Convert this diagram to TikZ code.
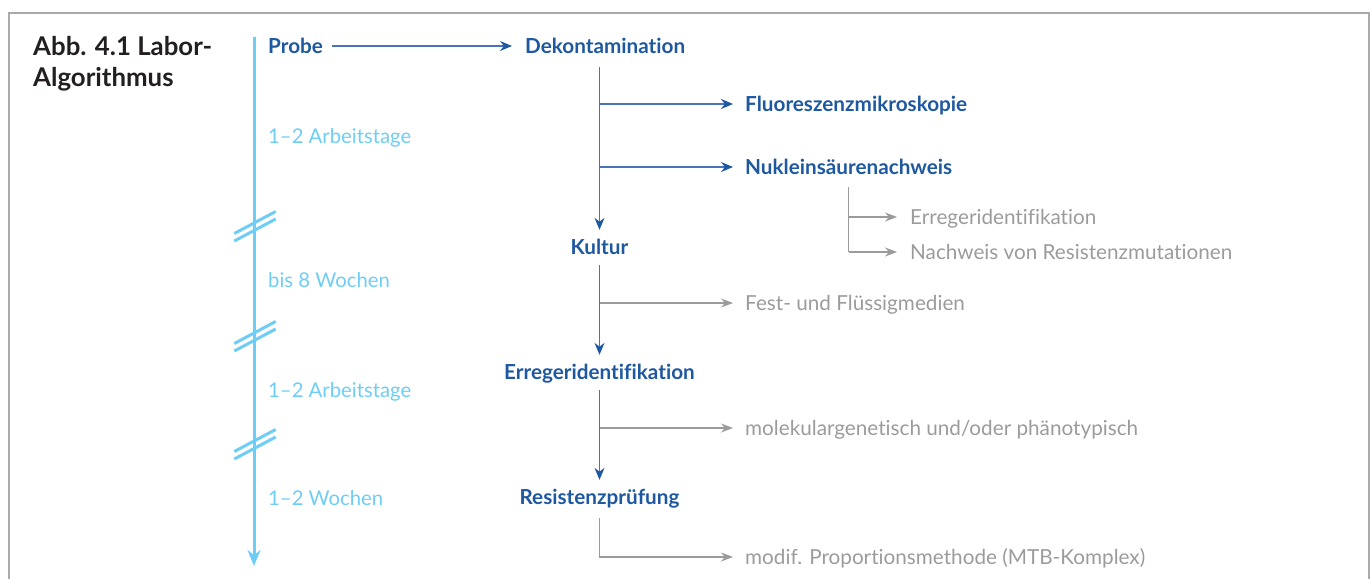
\documentclass[tikz,border=0pt]{standalone}
\usepackage{fontspec}
\setmainfont{Lato}[Ligatures=NoCommon]
\usetikzlibrary{arrows.meta}
\definecolor{dblue}{RGB}{30,88,160}
\definecolor{lineblue}{RGB}{70,115,185}
\definecolor{lblue}{RGB}{110,205,245}
\definecolor{lgray}{RGB}{155,155,155}
\definecolor{framegray}{RGB}{170,170,170}
\definecolor{titlecol}{RGB}{35,31,32}
\begin{document}
\begin{tikzpicture}[x=1pt,y=-1pt,
  every node/.style={inner sep=0pt, text height=14pt, text depth=0pt},
  mainbox/.style={font=\fontsize{20.7}{24}\selectfont\bfseries, text=dblue},
  sidebox/.style={mainbox, anchor=west},
  subbox/.style={font=\fontsize{20.7}{24}\selectfont, text=lgray, anchor=west},
  tlabel/.style={font=\fontsize{20.3}{24}\selectfont, text=lblue, anchor=west},
  titlebox/.style={font=\fontsize{25.8}{30}\selectfont\bfseries, text=titlecol, anchor=base west, text height=18pt},
  flow/.style={draw=lineblue, line width=1.1pt, -{Stealth[length=12pt,width=10pt,color=dblue]}},
  graylink/.style={draw=lgray, line width=1.1pt, -{Stealth[length=12pt,width=9pt]}},
  timeline/.style={draw=lblue, line width=3pt, -{Stealth[length=16pt,width=13pt]}},
  breakmark/.style={draw=lblue, line width=3pt}
]
\useasboundingbox (0,0) rectangle (1372,579);
% frame
\draw[framegray, line width=2pt] (9,579) -- (9,13) -- (1369,13) -- (1369,579);

% title
\node[titlebox] (title1) at (33,55) {Abb. 4.1 Labor-};
\node[titlebox] (title2) at (33,86) {Algorithmus};

% timeline
\coordinate (tltop) at (254,37);
\coordinate (tlbot) at (254,566);
\draw[timeline] (tltop) -- (tlbot);
\foreach \c in {230,340,448}{
  \draw[breakmark] (234.3,\c+3.5) -- (275.7,\c-18.5);
  \draw[breakmark] (234.3,\c+11) -- (275.7,\c-11);
}
\node[tlabel] (t1) at (268,136) {1–2 Arbeitstage};
\node[tlabel] (t2) at (268,280) {bis 8 Wochen};
\node[tlabel] (t3) at (268,390) {1–2 Arbeitstage};
\node[tlabel] (t4) at (268,498) {1–2 Wochen};

% main nodes
\node[sidebox] (probe) at (268,46) {Probe};
\node[sidebox] (dekon) at (525,46) {Dekontamination};
\node[sidebox] (fluor) at (745,104) {Fluoreszenzmikroskopie};
\node[sidebox] (nuklein) at (745,167) {Nukleinsäurenachweis};
\node[subbox] (erregsub) at (910,217) {Erregeridentifikation};
\node[subbox] (nachw) at (910,252) {Nachweis von Resistenzmutationen};
\node[mainbox] (kultur) at (599.5,247) {Kultur};
\node[subbox] (fest) at (745,303) {Fest- und Flüssigmedien};
\node[mainbox] (erreg) at (599.5,372) {Erregeridentifikation};
\node[subbox] (molek) at (745,428) {molekulargenetisch und/oder phänotypisch};
\node[mainbox] (resist) at (599.5,497) {Resistenzprüfung};
\node[subbox] (modif) at (745,557) {modif. Proportionsmethode (MTB-Komplex)};

% connectors
\draw[flow] ([xshift=9pt]probe.east) -- ([xshift=-13pt]dekon.west);
\draw[flow, shorten <=14pt, shorten >=10pt] (dekon.south -| kultur.north) -- (kultur.north);
\draw[flow, shorten >=12pt] (fluor.west -| kultur.north) -- (fluor.west);
\draw[flow, shorten >=12pt] (nuklein.west -| kultur.north) -- (nuklein.west);
\draw[flow, shorten <=11pt, shorten >=10pt] (kultur.south) -- (erreg.north);
\draw[flow, shorten <=11pt, shorten >=10pt] (erreg.south) -- (resist.north);

\draw[draw=lgray, line width=1.1pt] ([yshift=-13pt]nuklein.south) -- (nachw.west -| nuklein.south);
\draw[graylink, shorten >=13pt] (erregsub.west -| nuklein.south) -- (erregsub.west);
\draw[graylink, shorten >=13pt] (nachw.west -| nuklein.south) -- (nachw.west);
\draw[graylink, shorten >=12pt] (fest.west -| kultur.south) -- (fest.west);
\draw[graylink, shorten >=12pt] (molek.west -| erreg.south) -- (molek.west);
\draw[graylink, shorten >=12pt] ([yshift=-14pt]resist.south) -- (modif.west -| resist.south) -- (modif.west);
\end{tikzpicture}
\end{document}
